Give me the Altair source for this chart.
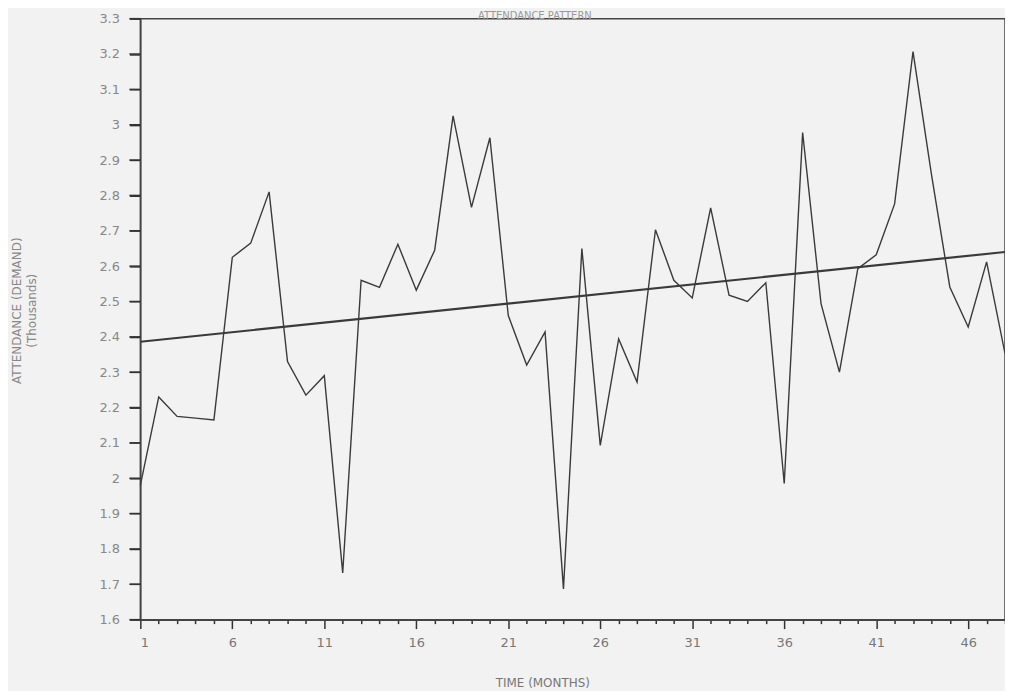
import altair as alt
import pandas as pd

months = list(range(1, 49))
attendance = [
    1.98, 2.23, 2.175, 2.17, 2.165, 2.625, 2.665, 2.81, 2.33, 2.235,
    2.29, 1.732, 2.56, 2.54, 2.662, 2.532, 2.645, 3.025, 2.766, 2.963,
    2.46, 2.32, 2.414, 1.687, 2.65, 2.093, 2.394, 2.272, 2.703, 2.56,
    2.51, 2.765, 2.518, 2.50, 2.553, 1.985, 2.978, 2.494, 2.30, 2.593,
    2.632, 2.776, 3.207, 2.86, 2.541, 2.428, 2.612, 2.353,
]
trend_months = [1, 48]
trend_values = [2.386, 2.64]
x_tick_values = months
y_tick_values = [1.6, 1.7, 1.8, 1.9, 2.0, 2.1, 2.2, 2.3, 2.4, 2.5,
                 2.6, 2.7, 2.8, 2.9, 3.0, 3.1, 3.2, 3.3]

df = pd.DataFrame({"month": months, "value": attendance})
trend_df = pd.DataFrame({"month": trend_months, "value": trend_values})
ytick_df = pd.DataFrame({"value": y_tick_values})

FONT = "DejaVu Sans"
Y_TICK = 11

x_enc = alt.X(
    "month:Q",
    scale=alt.Scale(domain=[1, 48], nice=False, zero=False),
    axis=alt.Axis(
        values=x_tick_values,
        tickCount=100,
        format="d",
        labelOverlap=False,
        labelExpr="(datum.value - 1) % 5 === 0 ? datum.label : ''",
        tickSize={"condition": {"test": "(datum.value - 1) % 5 === 0", "value": 9}, "value": 4},
        ticks=True,
        tickColor="#333",
        tickWidth=1.5,
        domainColor="#444",
        domainWidth=1.5,
        labelPadding=8,
        labelFont=FONT,
        labelFontSize=13,
        labelColor="#777",
        grid=False,
        title="TIME (MONTHS)",
        titleFont=FONT,
        titleFontSize=12,
        titleFontWeight="normal",
        titleColor="#777",
        titleX=404,
        titleY=58,
        titleBaseline="top",
        titleAlign="center",
    ),
)

y_scale = alt.Scale(domain=[1.6, 3.3], nice=False, zero=False)
y_enc = alt.Y(
    "value:Q",
    scale=y_scale,
    axis=alt.Axis(
        values=y_tick_values,
        tickCount=100,
        labelOverlap=False,
        format=".1~f",
        ticks=True,
        tickSize=Y_TICK,
        tickColor="#333",
        tickWidth=1.5,
        domainColor="#444",
        domainWidth=1.5,
        labelPadding=10,
        labelFont=FONT,
        labelFontSize=13,
        labelColor="#888",
        grid=False,
        title=["ATTENDANCE (DEMAND)", "(Thousands)"],
        titleFont=FONT,
        titleFontSize=12,
        titleFontWeight="normal",
        titleColor="#888",
        titleLineHeight=15,
        titleAngle=270,
        titleX=-129,
        titleY=293,
        titleBaseline="top",
        titleAlign="center",
    ),
)

series = alt.Chart(df).mark_line(color="#3a3a3a", strokeWidth=1.4).encode(x=x_enc, y=y_enc)
trend = alt.Chart(trend_df).mark_line(color="#3a3a3a", strokeWidth=2.2).encode(
    x="month:Q", y="value:Q"
)
# short horizontal tick dashes just left of the y axis, positioned by the y scale
yticks = alt.Chart(ytick_df).mark_point(
    shape="stroke", size=Y_TICK * Y_TICK, filled=False, color="#333",
    strokeWidth=1.5, opacity=1, clip=False,
).encode(
    y=alt.Y("value:Q", scale=y_scale),
    x=alt.value(-Y_TICK / 2),
)

chart = (
    alt.layer(series, trend, yticks)
    .properties(
        width=869,
        height=604,
        title=alt.TitleParams(
            "ATTENDANCE PATTERN",
            font=FONT,
            fontSize=10,
            fontWeight="normal",
            color="#999",
            anchor="middle",
            dx=-38,
            offset=-8,
        ),
        padding={"left": 133, "top": 9, "right": 0, "bottom": 70},
        autosize=alt.AutoSizeParams(type="none"),
        background="#f2f2f2",
    )
    .configure_view(stroke="#444", strokeWidth=1.5)
)

chart.save("out.html", embed_options={"renderer": "svg", "actions": False})
